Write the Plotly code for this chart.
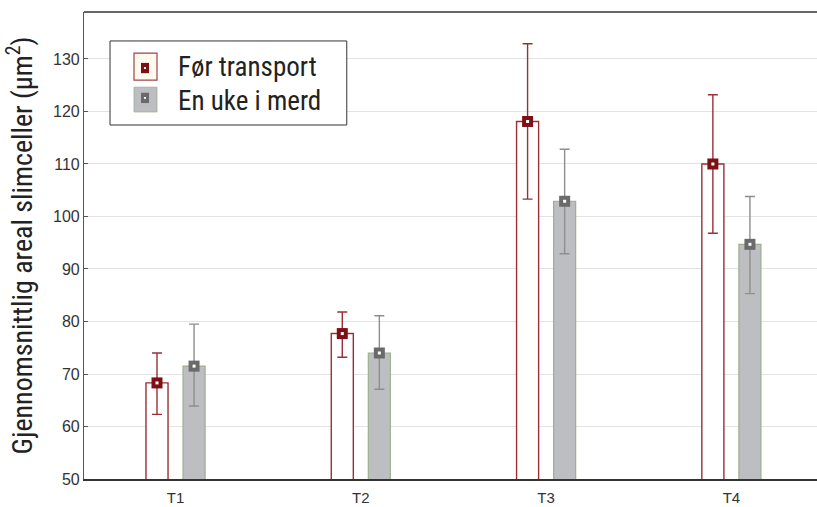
import plotly.graph_objects as go

categories = ["T1", "T2", "T3", "T4"]
series_names = ["Før transport", "En uke i merd"]
before_vals = [68.3, 77.7, 118.1, 110.0]
before_upper = [74.0, 81.8, 132.9, 123.2]
before_lower = [62.3, 73.2, 103.3, 96.8]
week_vals = [71.5, 74.0, 102.9, 94.7]
week_upper = [79.5, 81.1, 112.8, 103.8]
week_lower = [63.9, 67.1, 92.9, 85.3]
y_ticks = [50, 60, 70, 80, 90, 100, 110, 120, 130]

xpos = list(range(1, len(categories) + 1))
off = 0.1
bw = 0.119
x_before = [p - off for p in xpos]
x_week = [p + off for p in xpos]

RED = "#7d1015"
RED_LINE = "#9a3036"
GRAY_FILL = "#bdbec2"
GRAY_LINE = "#9eae8f"
GRAY_MARK = "#6a6a6a"
GRAY_ERR = "#8e8e8e"

fig = go.Figure()
fig.add_trace(go.Bar(x=x_before, y=before_vals, width=bw, name=series_names[0],
                     marker=dict(color="white", line=dict(color=RED_LINE, width=1.4)),
                     showlegend=False))
fig.add_trace(go.Bar(x=x_week, y=week_vals, width=bw, name=series_names[1],
                     marker=dict(color=GRAY_FILL, line=dict(color=GRAY_LINE, width=1.2)),
                     showlegend=False))

def err(vals, up, lo):
    return dict(type="data", symmetric=False,
                array=[u - v for u, v in zip(up, vals)],
                arrayminus=[v - l for v, l in zip(vals, lo)])

e1 = err(before_vals, before_upper, before_lower)
e1.update(color=RED_LINE, thickness=1.4, width=5)
e2 = err(week_vals, week_upper, week_lower)
e2.update(color=GRAY_ERR, thickness=1.4, width=5)

fig.add_trace(go.Scatter(x=x_before, y=before_vals, mode="markers", error_y=e1,
                         marker=dict(symbol="square", size=11, color=RED), showlegend=False))
fig.add_trace(go.Scatter(x=x_week, y=week_vals, mode="markers", error_y=e2,
                         marker=dict(symbol="square", size=11, color=GRAY_MARK), showlegend=False))
fig.add_trace(go.Scatter(x=x_before + x_week, y=before_vals + week_vals, mode="markers",
                         marker=dict(symbol="square", size=3, color="white"), showlegend=False,
                         hoverinfo="skip"))

# custom legend
def prect(x0, x1, y0, y1, line_color, line_width, fill):
    fig.add_shape(type="rect", xref="paper", yref="paper", x0=x0, x1=x1, y0=y0, y1=y1,
                  line=dict(color=line_color, width=line_width), fillcolor=fill, layer="above")

prect(0.0355, 0.3585, 0.758, 0.938, "#333333", 1, "white")
prect(0.0682, 0.0996, 0.854, 0.912, "#a04448", 1.2, "#fffaf0")
prect(0.0682, 0.0996, 0.786, 0.839, GRAY_LINE, 0.8, GRAY_FILL)
prect(0.0778, 0.0887, 0.869, 0.891, RED, 0, RED)
prect(0.0818, 0.0846, 0.878, 0.882, "white", 0, "white")
prect(0.0778, 0.0887, 0.805, 0.827, GRAY_MARK, 0, GRAY_MARK)
prect(0.0818, 0.0846, 0.814, 0.818, "white", 0, "white")

leg_font = dict(family="Roboto Condensed, Liberation Sans Narrow, Roboto", size=27, color="#222222")
fig.add_annotation(xref="paper", yref="paper", x=0.125, y=0.883, text=series_names[0],
                   showarrow=False, xanchor="left", yanchor="middle", font=leg_font)
fig.add_annotation(xref="paper", yref="paper", x=0.125, y=0.809, text=series_names[1],
                   showarrow=False, xanchor="left", yanchor="middle", font=leg_font)

# top frame line
fig.add_shape(type="line", xref="paper", yref="paper", x0=0, x1=1, y0=1, y1=1,
              line=dict(color="#333333", width=1.5))

fig.update_layout(
    width=817, height=507,
    margin=dict(l=84, r=0, t=12, b=28),
    paper_bgcolor="white", plot_bgcolor="white",
    barmode="overlay",
    xaxis=dict(range=[0.506, 4.462], tickvals=xpos, ticktext=categories,
               showgrid=False, zeroline=False, showline=True, linecolor="#333333", linewidth=1.5,
               ticks="", ticklabelstandoff=4,
               tickfont=dict(family="Liberation Sans, Arial", size=15, color="#333333")),
    yaxis=dict(range=[50, 138.95], tickvals=y_ticks, showgrid=True, gridcolor="#e3e3e3",
               gridwidth=1.2, zeroline=False, showline=True, linecolor="#555555", linewidth=1.2,
               ticks="inside", ticklen=4, tickcolor="#555555",
               tickfont=dict(family="Liberation Sans, Arial", size=16, color="#333333"),
               title=dict(text="Gjennomsnittlig areal slimceller (µm<sup>2</sup>)", standoff=12,
                          font=dict(family="Roboto Condensed, Liberation Sans Narrow, Roboto",
                                    size=28, color="#222222"))),
)

fig.write_html("out.html", config={"displayModeBar": False},
               post_script="document.body.style.margin='0px';")
